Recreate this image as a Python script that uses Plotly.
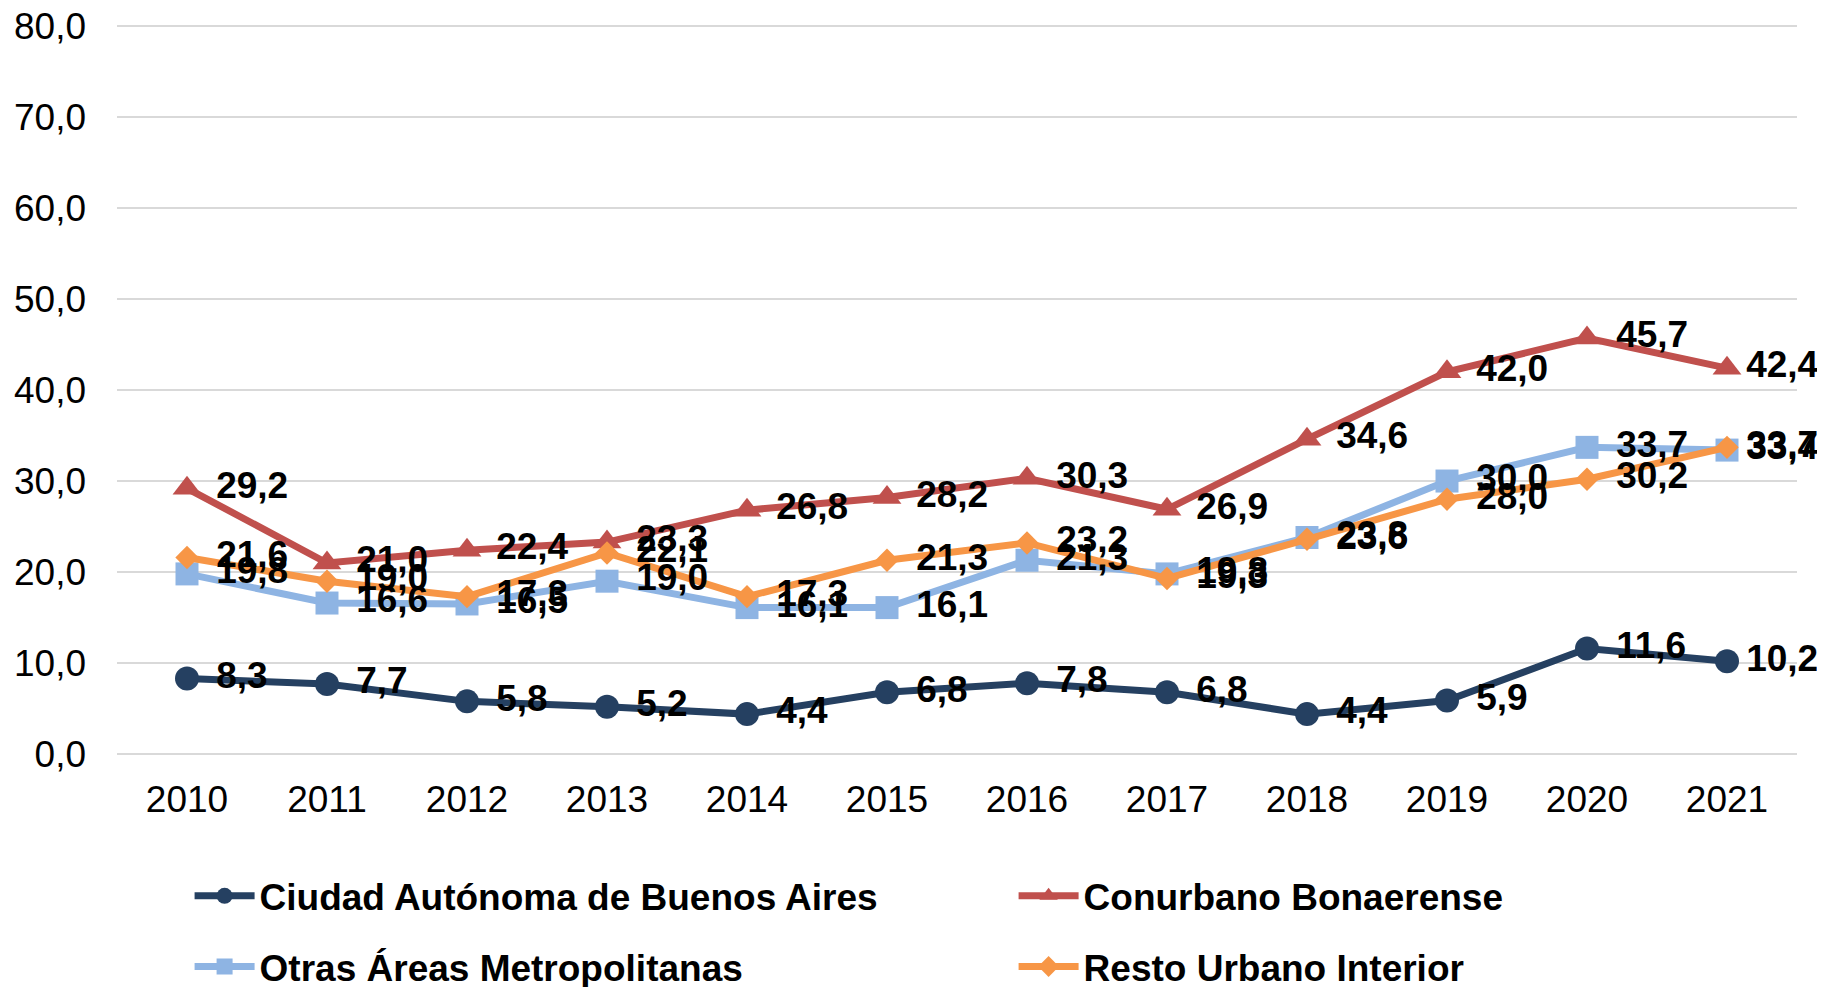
import plotly.graph_objects as go

years = ["2010", "2011", "2012", "2013", "2014", "2015", "2016", "2017", "2018", "2019", "2020", "2021"]
caba = [8.3, 7.7, 5.8, 5.2, 4.4, 6.8, 7.8, 6.8, 4.4, 5.9, 11.6, 10.2]
conurbano = [29.2, 21.0, 22.4, 23.3, 26.8, 28.2, 30.3, 26.9, 34.6, 42.0, 45.7, 42.4]
otras = [19.8, 16.6, 16.5, 19.0, 16.1, 16.1, 21.3, 19.8, 23.8, 30.0, 33.7, 33.4]
resto = [21.6, 19.0, 17.3, 22.1, 17.3, 21.3, 23.2, 19.3, 23.6, 28.0, 30.2, 33.7]

series = [
    ("Ciudad Autónoma de Buenos Aires", caba, "#254061", "circle", 24, "legend"),
    ("Conurbano Bonaerense", conurbano, "#C0504D", "triangle-up", 25, "legend"),
    ("Otras Áreas Metropolitanas", otras, "#8EB4E3", "square", 23, "legend2"),
    ("Resto Urbano Interior", resto, "#F79646", "diamond", 18, "legend2"),
]

FONT = "Liberation Sans, Arial, sans-serif"
FS = 37

fig = go.Figure()
for name, vals, color, sym, size, leg in series:
    fig.add_trace(go.Scatter(
        x=years, y=vals, name=name, mode="lines+markers",
        line=dict(color=color, width=7),
        marker=dict(symbol=sym, size=size, color=color),
        legend=leg,
    ))
# invisible spacer markers set the label offset; last labels sit closer (fit inside chart)
spacer = [45] * (len(years) - 1) + [29]
for name, vals, color, sym, size, leg in series:
    fig.add_trace(go.Scatter(
        x=years, y=vals, mode="markers+text", showlegend=False,
        marker=dict(size=spacer, opacity=0, color=color),
        text=[f"{v:.1f}".replace(".", ",") for v in vals],
        textposition="middle right",
        textfont=dict(family=FONT, size=FS, color="black", weight="bold"),
        hoverinfo="skip",
        cliponaxis=False,
    ))

legend_common = dict(
    orientation="h", xref="container", yref="container",
    xanchor="left", yanchor="middle",
    font=dict(family=FONT, size=FS, color="black", weight="bold"),
    entrywidth=749, entrywidthmode="pixels", itemwidth=60,
    bgcolor="rgba(0,0,0,0)",
)

fig.update_layout(
    width=1825, height=987,
    margin=dict(l=109, r=36, t=16, b=239, autoexpand=False),
    paper_bgcolor="white", plot_bgcolor="white",
    separators=",.",
    font=dict(family=FONT, size=FS, color="black"),
    xaxis=dict(range=[-0.5, 11.5], showgrid=False, showline=False, ticks="",
               tickfont=dict(size=FS), ticklabelstandoff=18),
    yaxis=dict(range=[-0.2, 80.2], tickvals=[0, 10, 20, 30, 40, 50, 60, 70, 80],
               tickformat=".1f", showgrid=True,
               gridcolor="#D9D9D9", gridwidth=1.5, zeroline=False, showline=False,
               ticks="", tickfont=dict(size=FS), ticklabelstandoff=30,
               ticklabeloverflow="allow"),
    legend=dict(x=0.0995, y=0.100, **legend_common),
    legend2=dict(x=0.0995, y=0.0284, **legend_common),
)

fig.write_html("out.html")
